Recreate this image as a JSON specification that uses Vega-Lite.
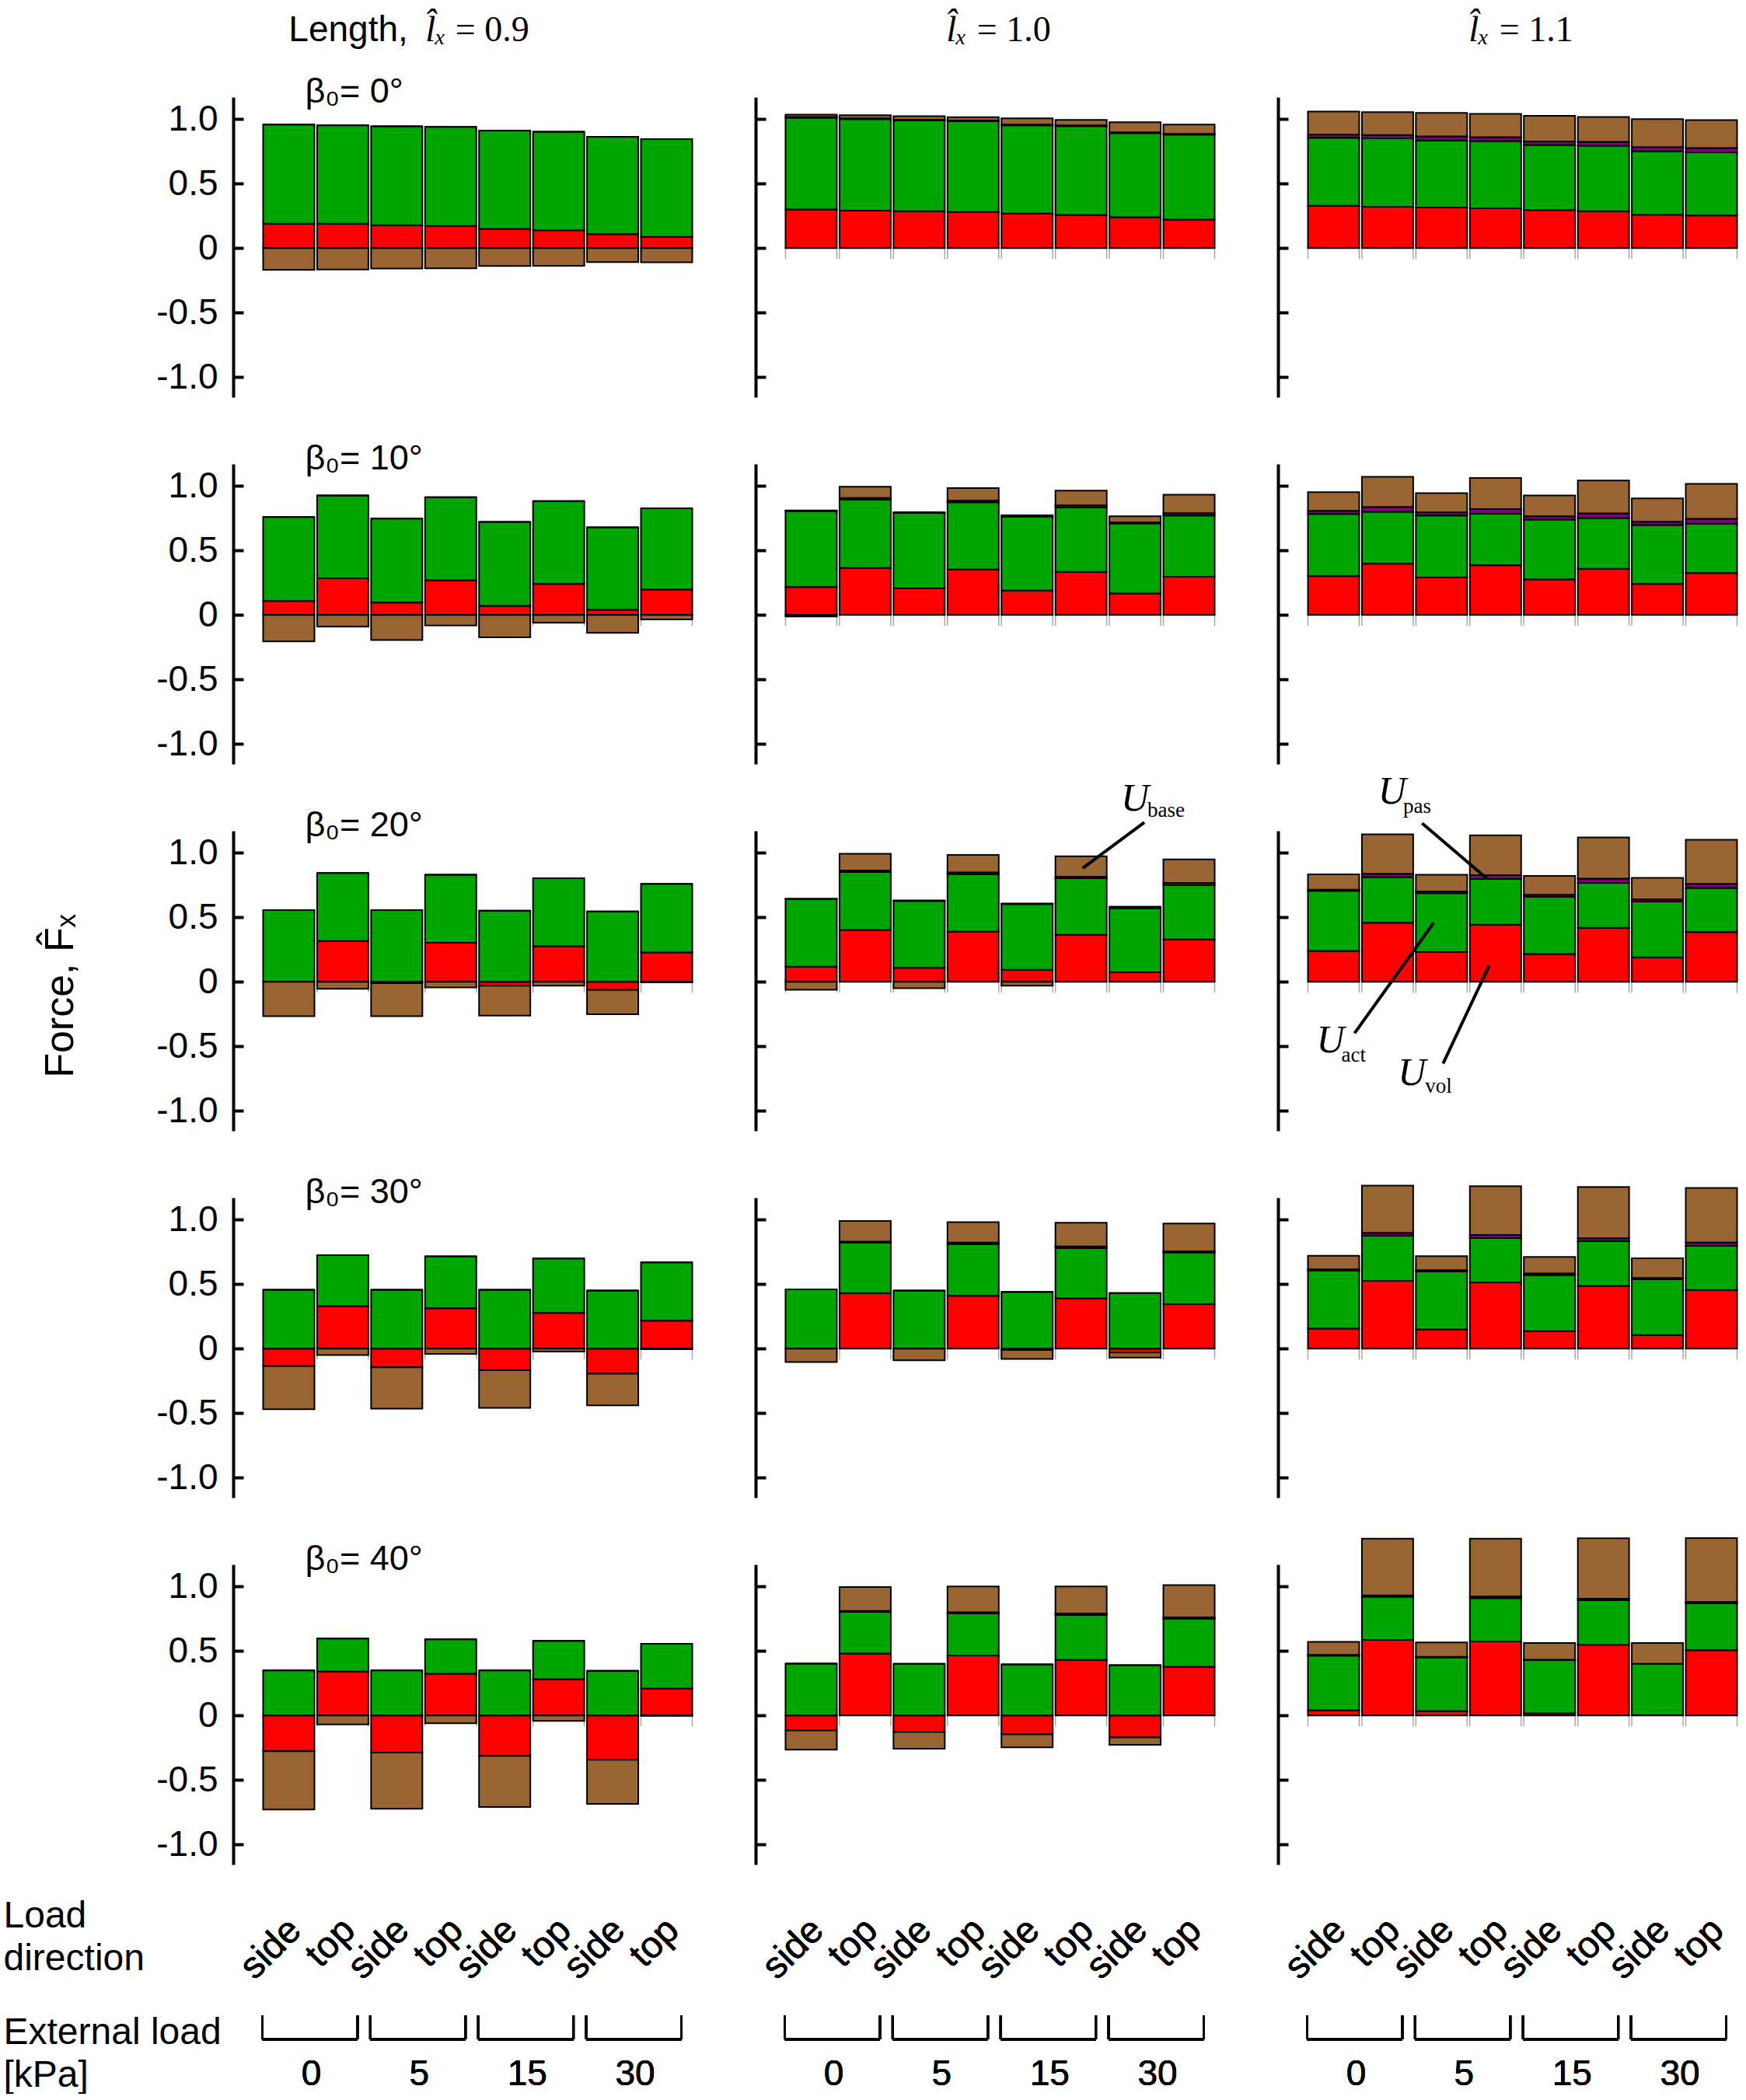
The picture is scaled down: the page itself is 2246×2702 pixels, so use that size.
{
  "$schema": "https://vega.github.io/schema/vega-lite/v6.json",
  "padding": {"left": 4, "top": 15, "right": 0, "bottom": 0},
  "datasets": {
    "bars": [
      {"c":"0.9","b":0,"l":"0","d":"side","vol":0.19,"act":0.768,"pas":0,"base":-0.168},
      {"c":"0.9","b":0,"l":"0","d":"top","vol":0.19,"act":0.762,"pas":0,"base":-0.166},
      {"c":"0.9","b":0,"l":"5","d":"side","vol":0.178,"act":0.766,"pas":0,"base":-0.158},
      {"c":"0.9","b":0,"l":"5","d":"top","vol":0.172,"act":0.768,"pas":0,"base":-0.156},
      {"c":"0.9","b":0,"l":"15","d":"side","vol":0.149,"act":0.762,"pas":0,"base":-0.139},
      {"c":"0.9","b":0,"l":"15","d":"top","vol":0.139,"act":0.763,"pas":0,"base":-0.137},
      {"c":"0.9","b":0,"l":"30","d":"side","vol":0.108,"act":0.755,"pas":0,"base":-0.108},
      {"c":"0.9","b":0,"l":"30","d":"top","vol":0.087,"act":0.757,"pas":0,"base":-0.11},
      {"c":"1.0","b":0,"l":"0","d":"side","vol":0.30,"act":0.71,"pas":0.006,"base":0.019},
      {"c":"1.0","b":0,"l":"0","d":"top","vol":0.29,"act":0.71,"pas":0.006,"base":0.024},
      {"c":"1.0","b":0,"l":"5","d":"side","vol":0.286,"act":0.704,"pas":0.006,"base":0.027},
      {"c":"1.0","b":0,"l":"5","d":"top","vol":0.28,"act":0.703,"pas":0.006,"base":0.026},
      {"c":"1.0","b":0,"l":"15","d":"side","vol":0.268,"act":0.684,"pas":0.006,"base":0.048},
      {"c":"1.0","b":0,"l":"15","d":"top","vol":0.257,"act":0.689,"pas":0.006,"base":0.042},
      {"c":"1.0","b":0,"l":"30","d":"side","vol":0.239,"act":0.653,"pas":0.006,"base":0.077},
      {"c":"1.0","b":0,"l":"30","d":"top","vol":0.222,"act":0.658,"pas":0.006,"base":0.072},
      {"c":"1.1","b":0,"l":"0","d":"side","vol":0.328,"act":0.527,"pas":0.025,"base":0.178},
      {"c":"1.1","b":0,"l":"0","d":"top","vol":0.32,"act":0.531,"pas":0.025,"base":0.178},
      {"c":"1.1","b":0,"l":"5","d":"side","vol":0.315,"act":0.519,"pas":0.032,"base":0.182},
      {"c":"1.1","b":0,"l":"5","d":"top","vol":0.309,"act":0.521,"pas":0.03,"base":0.181},
      {"c":"1.1","b":0,"l":"15","d":"side","vol":0.295,"act":0.504,"pas":0.028,"base":0.198},
      {"c":"1.1","b":0,"l":"15","d":"top","vol":0.286,"act":0.507,"pas":0.03,"base":0.194},
      {"c":"1.1","b":0,"l":"30","d":"side","vol":0.259,"act":0.492,"pas":0.032,"base":0.217},
      {"c":"1.1","b":0,"l":"30","d":"top","vol":0.253,"act":0.49,"pas":0.032,"base":0.217},
      {"c":"0.9","b":10,"l":"0","d":"side","vol":0.108,"act":0.651,"pas":0,"base":-0.205},
      {"c":"0.9","b":10,"l":"0","d":"top","vol":0.285,"act":0.641,"pas":0,"base":-0.09},
      {"c":"0.9","b":10,"l":"5","d":"side","vol":0.096,"act":0.651,"pas":0,"base":-0.195},
      {"c":"0.9","b":10,"l":"5","d":"top","vol":0.269,"act":0.643,"pas":0,"base":-0.082},
      {"c":"0.9","b":10,"l":"15","d":"side","vol":0.07,"act":0.651,"pas":0,"base":-0.173},
      {"c":"0.9","b":10,"l":"15","d":"top","vol":0.241,"act":0.641,"pas":0,"base":-0.06},
      {"c":"0.9","b":10,"l":"30","d":"side","vol":0.04,"act":0.639,"pas":0,"base":-0.139},
      {"c":"0.9","b":10,"l":"30","d":"top","vol":0.197,"act":0.63,"pas":0,"base":-0.034},
      {"c":"1.0","b":10,"l":"0","d":"side","vol":0.217,"act":0.588,"pas":0.005,"base":-0.012},
      {"c":"1.0","b":10,"l":"0","d":"top","vol":0.365,"act":0.529,"pas":0.012,"base":0.088},
      {"c":"1.0","b":10,"l":"5","d":"side","vol":0.207,"act":0.584,"pas":0.004,"base":0},
      {"c":"1.0","b":10,"l":"5","d":"top","vol":0.353,"act":0.52,"pas":0.014,"base":0.097},
      {"c":"1.0","b":10,"l":"15","d":"side","vol":0.19,"act":0.571,"pas":0.012,"base":0},
      {"c":"1.0","b":10,"l":"15","d":"top","vol":0.335,"act":0.498,"pas":0.017,"base":0.114},
      {"c":"1.0","b":10,"l":"30","d":"side","vol":0.167,"act":0.542,"pas":0.01,"base":0.046},
      {"c":"1.0","b":10,"l":"30","d":"top","vol":0.297,"act":0.474,"pas":0.018,"base":0.143},
      {"c":"1.1","b":10,"l":"0","d":"side","vol":0.301,"act":0.482,"pas":0.024,"base":0.145},
      {"c":"1.1","b":10,"l":"0","d":"top","vol":0.398,"act":0.401,"pas":0.038,"base":0.233},
      {"c":"1.1","b":10,"l":"5","d":"side","vol":0.291,"act":0.48,"pas":0.024,"base":0.149},
      {"c":"1.1","b":10,"l":"5","d":"top","vol":0.386,"act":0.399,"pas":0.035,"base":0.242},
      {"c":"1.1","b":10,"l":"15","d":"side","vol":0.275,"act":0.464,"pas":0.026,"base":0.161},
      {"c":"1.1","b":10,"l":"15","d":"top","vol":0.359,"act":0.392,"pas":0.037,"base":0.254},
      {"c":"1.1","b":10,"l":"30","d":"side","vol":0.241,"act":0.456,"pas":0.026,"base":0.181},
      {"c":"1.1","b":10,"l":"30","d":"top","vol":0.325,"act":0.382,"pas":0.038,"base":0.271},
      {"c":"0.9","b":20,"l":"0","d":"side","vol":0,"act":0.555,"pas":0,"base":-0.266},
      {"c":"0.9","b":20,"l":"0","d":"top","vol":0.316,"act":0.527,"pas":0,"base":-0.054},
      {"c":"0.9","b":20,"l":"5","d":"side","vol":-0.01,"act":0.555,"pas":0,"base":-0.256},
      {"c":"0.9","b":20,"l":"5","d":"top","vol":0.302,"act":0.527,"pas":0,"base":-0.044},
      {"c":"0.9","b":20,"l":"15","d":"side","vol":-0.03,"act":0.551,"pas":0,"base":-0.232},
      {"c":"0.9","b":20,"l":"15","d":"top","vol":0.276,"act":0.527,"pas":0,"base":-0.03},
      {"c":"0.9","b":20,"l":"30","d":"side","vol":-0.064,"act":0.545,"pas":0,"base":-0.188},
      {"c":"0.9","b":20,"l":"30","d":"top","vol":0.227,"act":0.532,"pas":0,"base":-0.005},
      {"c":"1.0","b":20,"l":"0","d":"side","vol":0.117,"act":0.523,"pas":0.005,"base":-0.062},
      {"c":"1.0","b":20,"l":"0","d":"top","vol":0.402,"act":0.449,"pas":0.012,"base":0.129},
      {"c":"1.0","b":20,"l":"5","d":"side","vol":0.109,"act":0.517,"pas":0.005,"base":-0.05},
      {"c":"1.0","b":20,"l":"5","d":"top","vol":0.388,"act":0.445,"pas":0.014,"base":0.137},
      {"c":"1.0","b":20,"l":"15","d":"side","vol":0.093,"act":0.509,"pas":0.005,"base":-0.03},
      {"c":"1.0","b":20,"l":"15","d":"top","vol":0.364,"act":0.439,"pas":0.012,"base":0.157},
      {"c":"1.0","b":20,"l":"30","d":"side","vol":0.074,"act":0.497,"pas":0.01,"base":0},
      {"c":"1.0","b":20,"l":"30","d":"top","vol":0.328,"act":0.422,"pas":0.016,"base":0.182},
      {"c":"1.1","b":20,"l":"0","d":"side","vol":0.239,"act":0.465,"pas":0.01,"base":0.119},
      {"c":"1.1","b":20,"l":"0","d":"top","vol":0.457,"act":0.354,"pas":0.026,"base":0.306},
      {"c":"1.1","b":20,"l":"5","d":"side","vol":0.231,"act":0.455,"pas":0.014,"base":0.129},
      {"c":"1.1","b":20,"l":"5","d":"top","vol":0.443,"act":0.354,"pas":0.03,"base":0.308},
      {"c":"1.1","b":20,"l":"15","d":"side","vol":0.215,"act":0.445,"pas":0.014,"base":0.147},
      {"c":"1.1","b":20,"l":"15","d":"top","vol":0.419,"act":0.348,"pas":0.032,"base":0.32},
      {"c":"1.1","b":20,"l":"30","d":"side","vol":0.189,"act":0.433,"pas":0.016,"base":0.167},
      {"c":"1.1","b":20,"l":"30","d":"top","vol":0.386,"act":0.342,"pas":0.031,"base":0.341},
      {"c":"0.9","b":30,"l":"0","d":"side","vol":-0.135,"act":0.456,"pas":0,"base":-0.335},
      {"c":"0.9","b":30,"l":"0","d":"top","vol":0.329,"act":0.396,"pas":0,"base":-0.05},
      {"c":"0.9","b":30,"l":"5","d":"side","vol":-0.145,"act":0.456,"pas":0,"base":-0.32},
      {"c":"0.9","b":30,"l":"5","d":"top","vol":0.313,"act":0.402,"pas":0,"base":-0.04},
      {"c":"0.9","b":30,"l":"15","d":"side","vol":-0.167,"act":0.456,"pas":0,"base":-0.293},
      {"c":"0.9","b":30,"l":"15","d":"top","vol":0.277,"act":0.422,"pas":0,"base":-0.022},
      {"c":"0.9","b":30,"l":"30","d":"side","vol":-0.195,"act":0.45,"pas":0,"base":-0.245},
      {"c":"0.9","b":30,"l":"30","d":"top","vol":0.217,"act":0.452,"pas":0,"base":-0.005},
      {"c":"1.0","b":30,"l":"0","d":"side","vol":0,"act":0.46,"pas":0,"base":-0.104},
      {"c":"1.0","b":30,"l":"0","d":"top","vol":0.43,"act":0.39,"pas":0.01,"base":0.16},
      {"c":"1.0","b":30,"l":"5","d":"side","vol":0,"act":0.45,"pas":0,"base":-0.09},
      {"c":"1.0","b":30,"l":"5","d":"top","vol":0.41,"act":0.40,"pas":0.012,"base":0.158},
      {"c":"1.0","b":30,"l":"15","d":"side","vol":-0.01,"act":0.44,"pas":0,"base":-0.07},
      {"c":"1.0","b":30,"l":"15","d":"top","vol":0.39,"act":0.39,"pas":0.012,"base":0.184},
      {"c":"1.0","b":30,"l":"30","d":"side","vol":-0.03,"act":0.43,"pas":0,"base":-0.04},
      {"c":"1.0","b":30,"l":"30","d":"top","vol":0.345,"act":0.40,"pas":0.01,"base":0.215},
      {"c":"1.1","b":30,"l":"0","d":"side","vol":0.155,"act":0.451,"pas":0.008,"base":0.106},
      {"c":"1.1","b":30,"l":"0","d":"top","vol":0.526,"act":0.351,"pas":0.02,"base":0.366},
      {"c":"1.1","b":30,"l":"5","d":"side","vol":0.149,"act":0.449,"pas":0.01,"base":0.109},
      {"c":"1.1","b":30,"l":"5","d":"top","vol":0.514,"act":0.343,"pas":0.024,"base":0.378},
      {"c":"1.1","b":30,"l":"15","d":"side","vol":0.135,"act":0.435,"pas":0.012,"base":0.129},
      {"c":"1.1","b":30,"l":"15","d":"top","vol":0.486,"act":0.347,"pas":0.023,"base":0.397},
      {"c":"1.1","b":30,"l":"30","d":"side","vol":0.106,"act":0.432,"pas":0.01,"base":0.152},
      {"c":"1.1","b":30,"l":"30","d":"top","vol":0.454,"act":0.343,"pas":0.025,"base":0.423},
      {"c":"0.9","b":40,"l":"0","d":"side","vol":-0.277,"act":0.349,"pas":0,"base":-0.452},
      {"c":"0.9","b":40,"l":"0","d":"top","vol":0.341,"act":0.255,"pas":0,"base":-0.07},
      {"c":"0.9","b":40,"l":"5","d":"side","vol":-0.287,"act":0.349,"pas":0,"base":-0.436},
      {"c":"0.9","b":40,"l":"5","d":"top","vol":0.323,"act":0.267,"pas":0,"base":-0.06},
      {"c":"0.9","b":40,"l":"15","d":"side","vol":-0.313,"act":0.349,"pas":0,"base":-0.396},
      {"c":"0.9","b":40,"l":"15","d":"top","vol":0.281,"act":0.297,"pas":0,"base":-0.042},
      {"c":"0.9","b":40,"l":"30","d":"side","vol":-0.343,"act":0.347,"pas":0,"base":-0.342},
      {"c":"0.9","b":40,"l":"30","d":"top","vol":0.209,"act":0.347,"pas":0,"base":-0.003},
      {"c":"1.0","b":40,"l":"0","d":"side","vol":-0.116,"act":0.402,"pas":0,"base":-0.149},
      {"c":"1.0","b":40,"l":"0","d":"top","vol":0.48,"act":0.323,"pas":0.007,"base":0.186},
      {"c":"1.0","b":40,"l":"5","d":"side","vol":-0.128,"act":0.40,"pas":0,"base":-0.129},
      {"c":"1.0","b":40,"l":"5","d":"top","vol":0.466,"act":0.324,"pas":0.01,"base":0.20},
      {"c":"1.0","b":40,"l":"15","d":"side","vol":-0.146,"act":0.396,"pas":0,"base":-0.101},
      {"c":"1.0","b":40,"l":"15","d":"top","vol":0.43,"act":0.35,"pas":0.01,"base":0.21},
      {"c":"1.0","b":40,"l":"30","d":"side","vol":-0.17,"act":0.39,"pas":0,"base":-0.057},
      {"c":"1.0","b":40,"l":"30","d":"top","vol":0.378,"act":0.372,"pas":0.01,"base":0.25},
      {"c":"1.1","b":40,"l":"0","d":"side","vol":0.04,"act":0.424,"pas":0.006,"base":0.10},
      {"c":"1.1","b":40,"l":"0","d":"top","vol":0.586,"act":0.334,"pas":0.01,"base":0.44},
      {"c":"1.1","b":40,"l":"5","d":"side","vol":0.034,"act":0.416,"pas":0.005,"base":0.111},
      {"c":"1.1","b":40,"l":"5","d":"top","vol":0.574,"act":0.336,"pas":0.013,"base":0.447},
      {"c":"1.1","b":40,"l":"15","d":"side","vol":0.016,"act":0.414,"pas":0.002,"base":0.13},
      {"c":"1.1","b":40,"l":"15","d":"top","vol":0.548,"act":0.345,"pas":0.012,"base":0.468},
      {"c":"1.1","b":40,"l":"30","d":"side","vol":0.003,"act":0.397,"pas":0,"base":0.162},
      {"c":"1.1","b":40,"l":"30","d":"top","vol":0.506,"act":0.363,"pas":0.011,"base":0.495}
    ],
    "notes": [
      {"id":"len","t":"Length,"},
      {"id":"lx","t":"l\u0302\u2093"},
      {"id":"v09","t":"= 0.9"},
      {"id":"v10","t":"= 1.0"},
      {"id":"v11","t":"= 1.1"},
      {"id":"b0","t":"\u03b2\u2080= 0\u00b0"},
      {"id":"b10","t":"\u03b2\u2080= 10\u00b0"},
      {"id":"b20","t":"\u03b2\u2080= 20\u00b0"},
      {"id":"b30","t":"\u03b2\u2080= 30\u00b0"},
      {"id":"b40","t":"\u03b2\u2080= 40\u00b0"},
      {"id":"U","t":"U"},
      {"id":"base","t":"base"},
      {"id":"pas","t":"pas"},
      {"id":"act","t":"act"},
      {"id":"vol","t":"vol"}
    ]
  },
  "data": {"name": "bars"},
  "transform": [
    {"fold": ["vol", "act", "pas", "base"], "as": ["comp", "v"]},
    {"calculate": "datum.l + ' ' + datum.d", "as": "pos"},
    {"calculate": "indexof(['vol','act','pas','base'], datum.comp)", "as": "ord"}
  ],
  "columns": 3,
  "spacing": {"row": 86, "column": 70},
  "bounds": "flush",
  "align": "each",
  "concat": [
    {
      "width": 602, "height": 386,
      "transform": [{"filter": "datum.c=='0.9' && datum.b==0"}],
      "encoding": {"x": {"field":"pos","type":"nominal","axis":null,"scale":{"domain":["0 side","0 top","5 side","5 top","15 side","15 top","30 side","30 top"],"paddingInner":0.05,"paddingOuter":0.36,"align":0.77}}},
      "layer": [
        {"transform":[{"filter":"datum.comp=='vol'"}],"mark":{"type":"rule","color":"#a8a8a8","strokeWidth":1.5},"encoding":{"x":{"field":"pos","type":"nominal","bandPosition":0},"y":{"datum":0},"y2":{"datum":-0.085}}},
        {"transform":[{"filter":"datum.comp=='vol'"}],"mark":{"type":"rule","color":"#a8a8a8","strokeWidth":1.5},"encoding":{"x":{"field":"pos","type":"nominal","bandPosition":1},"y":{"datum":0},"y2":{"datum":-0.085}}},
        {"mark":"bar","encoding":{"y":{"field":"v","type":"quantitative","stack":"zero","scale":{"domain":[-1.155,1.17],"nice":false},"axis":{"values":[-1,-0.5,0,0.5,1],"labelExpr":"datum.value==0 ? '0' : (datum.value<0 ? '-' : '') + format(abs(datum.value), '.1f')","title":null}},"color":{"field":"comp","type":"nominal","legend":null,"scale":{"domain":["vol","act","pas","base"],"range":["#ff0000","#00a600","#800080","#996633"]}},"order":{"field":"ord"}}},
        {"mark":{"type":"rule","color":"black","strokeWidth":3},"encoding":{"y":{"datum":0}}},
        {"data":{"name":"notes"},"transform":[{"filter":"datum.id=='len'"}],"mark":{"type":"text","align":"right","fontSize":46,"dx":-55},"encoding":{"x":{"datum":"5 top"},"y":{"datum":1.602},"text":{"field":"t"}}},
        {"data":{"name":"notes"},"transform":[{"filter":"datum.id=='lx'"}],"mark":{"type":"text","align":"right","font":"Liberation Serif","fontStyle":"italic","fontSize":47,"dx":-6},"encoding":{"x":{"datum":"5 top"},"y":{"datum":1.602},"text":{"field":"t"}}},
        {"data":{"name":"notes"},"transform":[{"filter":"datum.id=='v09'"}],"mark":{"type":"text","align":"left","font":"Liberation Serif","fontSize":46,"dx":6},"encoding":{"x":{"datum":"5 top"},"y":{"datum":1.602},"text":{"field":"t"}}},
        {"data":{"name":"notes"},"transform":[{"filter":"datum.id=='b0'"}],"mark":{"type":"text","align":"left","fontSize":45,"dx":21},"encoding":{"x":{"datum":"0 side"},"y":{"datum":1.127},"text":{"field":"t"}}}
      ]
    },
    {
      "width": 602, "height": 386,
      "transform": [{"filter": "datum.c=='1.0' && datum.b==0"}],
      "encoding": {"x": {"field":"pos","type":"nominal","axis":null,"scale":{"domain":["0 side","0 top","5 side","5 top","15 side","15 top","30 side","30 top"],"paddingInner":0.05,"paddingOuter":0.36,"align":0.77}}},
      "layer": [
        {"transform":[{"filter":"datum.comp=='vol'"}],"mark":{"type":"rule","color":"#a8a8a8","strokeWidth":1.5},"encoding":{"x":{"field":"pos","type":"nominal","bandPosition":0},"y":{"datum":0},"y2":{"datum":-0.085}}},
        {"transform":[{"filter":"datum.comp=='vol'"}],"mark":{"type":"rule","color":"#a8a8a8","strokeWidth":1.5},"encoding":{"x":{"field":"pos","type":"nominal","bandPosition":1},"y":{"datum":0},"y2":{"datum":-0.085}}},
        {"mark":"bar","encoding":{"y":{"field":"v","type":"quantitative","stack":"zero","scale":{"domain":[-1.155,1.17],"nice":false},"axis":{"values":[-1,-0.5,0,0.5,1],"labels":false,"title":null}},"color":{"field":"comp","type":"nominal","legend":null,"scale":{"domain":["vol","act","pas","base"],"range":["#ff0000","#00a600","#800080","#996633"]}},"order":{"field":"ord"}}},
        {"mark":{"type":"rule","color":"black","strokeWidth":3},"encoding":{"y":{"datum":0}}},
        {"data":{"name":"notes"},"transform":[{"filter":"datum.id=='lx'"}],"mark":{"type":"text","align":"right","font":"Liberation Serif","fontStyle":"italic","fontSize":47,"dx":-8},"encoding":{"x":{"datum":"5 top"},"y":{"datum":1.602},"text":{"field":"t"}}},
        {"data":{"name":"notes"},"transform":[{"filter":"datum.id=='v10'"}],"mark":{"type":"text","align":"left","font":"Liberation Serif","fontSize":46,"dx":5},"encoding":{"x":{"datum":"5 top"},"y":{"datum":1.602},"text":{"field":"t"}}}
      ]
    },
    {
      "width": 602, "height": 386,
      "transform": [{"filter": "datum.c=='1.1' && datum.b==0"}],
      "encoding": {"x": {"field":"pos","type":"nominal","axis":null,"scale":{"domain":["0 side","0 top","5 side","5 top","15 side","15 top","30 side","30 top"],"paddingInner":0.05,"paddingOuter":0.36,"align":0.77}}},
      "layer": [
        {"transform":[{"filter":"datum.comp=='vol'"}],"mark":{"type":"rule","color":"#a8a8a8","strokeWidth":1.5},"encoding":{"x":{"field":"pos","type":"nominal","bandPosition":0},"y":{"datum":0},"y2":{"datum":-0.085}}},
        {"transform":[{"filter":"datum.comp=='vol'"}],"mark":{"type":"rule","color":"#a8a8a8","strokeWidth":1.5},"encoding":{"x":{"field":"pos","type":"nominal","bandPosition":1},"y":{"datum":0},"y2":{"datum":-0.085}}},
        {"mark":"bar","encoding":{"y":{"field":"v","type":"quantitative","stack":"zero","scale":{"domain":[-1.155,1.17],"nice":false},"axis":{"values":[-1,-0.5,0,0.5,1],"labels":false,"title":null}},"color":{"field":"comp","type":"nominal","legend":null,"scale":{"domain":["vol","act","pas","base"],"range":["#ff0000","#00a600","#800080","#996633"]}},"order":{"field":"ord"}}},
        {"mark":{"type":"rule","color":"black","strokeWidth":3},"encoding":{"y":{"datum":0}}},
        {"data":{"name":"notes"},"transform":[{"filter":"datum.id=='lx'"}],"mark":{"type":"text","align":"right","font":"Liberation Serif","fontStyle":"italic","fontSize":47,"dx":-8},"encoding":{"x":{"datum":"5 top"},"y":{"datum":1.602},"text":{"field":"t"}}},
        {"data":{"name":"notes"},"transform":[{"filter":"datum.id=='v11'"}],"mark":{"type":"text","align":"left","font":"Liberation Serif","fontSize":46,"dx":5},"encoding":{"x":{"datum":"5 top"},"y":{"datum":1.602},"text":{"field":"t"}}}
      ]
    },
    {
      "width": 602, "height": 386,
      "transform": [{"filter": "datum.c=='0.9' && datum.b==10"}],
      "encoding": {"x": {"field":"pos","type":"nominal","axis":null,"scale":{"domain":["0 side","0 top","5 side","5 top","15 side","15 top","30 side","30 top"],"paddingInner":0.05,"paddingOuter":0.36,"align":0.77}}},
      "layer": [
        {"transform":[{"filter":"datum.comp=='vol'"}],"mark":{"type":"rule","color":"#a8a8a8","strokeWidth":1.5},"encoding":{"x":{"field":"pos","type":"nominal","bandPosition":0},"y":{"datum":0},"y2":{"datum":-0.085}}},
        {"transform":[{"filter":"datum.comp=='vol'"}],"mark":{"type":"rule","color":"#a8a8a8","strokeWidth":1.5},"encoding":{"x":{"field":"pos","type":"nominal","bandPosition":1},"y":{"datum":0},"y2":{"datum":-0.085}}},
        {"mark":"bar","encoding":{"y":{"field":"v","type":"quantitative","stack":"zero","scale":{"domain":[-1.155,1.17],"nice":false},"axis":{"values":[-1,-0.5,0,0.5,1],"labelExpr":"datum.value==0 ? '0' : (datum.value<0 ? '-' : '') + format(abs(datum.value), '.1f')","title":null}},"color":{"field":"comp","type":"nominal","legend":null,"scale":{"domain":["vol","act","pas","base"],"range":["#ff0000","#00a600","#800080","#996633"]}},"order":{"field":"ord"}}},
        {"mark":{"type":"rule","color":"black","strokeWidth":3},"encoding":{"y":{"datum":0}}},
        {"data":{"name":"notes"},"transform":[{"filter":"datum.id=='b10'"}],"mark":{"type":"text","align":"left","fontSize":45,"dx":21},"encoding":{"x":{"datum":"0 side"},"y":{"datum":1.127},"text":{"field":"t"}}}
      ]
    },
    {
      "width": 602, "height": 386,
      "transform": [{"filter": "datum.c=='1.0' && datum.b==10"}],
      "encoding": {"x": {"field":"pos","type":"nominal","axis":null,"scale":{"domain":["0 side","0 top","5 side","5 top","15 side","15 top","30 side","30 top"],"paddingInner":0.05,"paddingOuter":0.36,"align":0.77}}},
      "layer": [
        {"transform":[{"filter":"datum.comp=='vol'"}],"mark":{"type":"rule","color":"#a8a8a8","strokeWidth":1.5},"encoding":{"x":{"field":"pos","type":"nominal","bandPosition":0},"y":{"datum":0},"y2":{"datum":-0.085}}},
        {"transform":[{"filter":"datum.comp=='vol'"}],"mark":{"type":"rule","color":"#a8a8a8","strokeWidth":1.5},"encoding":{"x":{"field":"pos","type":"nominal","bandPosition":1},"y":{"datum":0},"y2":{"datum":-0.085}}},
        {"mark":"bar","encoding":{"y":{"field":"v","type":"quantitative","stack":"zero","scale":{"domain":[-1.155,1.17],"nice":false},"axis":{"values":[-1,-0.5,0,0.5,1],"labels":false,"title":null}},"color":{"field":"comp","type":"nominal","legend":null,"scale":{"domain":["vol","act","pas","base"],"range":["#ff0000","#00a600","#800080","#996633"]}},"order":{"field":"ord"}}},
        {"mark":{"type":"rule","color":"black","strokeWidth":3},"encoding":{"y":{"datum":0}}}
      ]
    },
    {
      "width": 602, "height": 386,
      "transform": [{"filter": "datum.c=='1.1' && datum.b==10"}],
      "encoding": {"x": {"field":"pos","type":"nominal","axis":null,"scale":{"domain":["0 side","0 top","5 side","5 top","15 side","15 top","30 side","30 top"],"paddingInner":0.05,"paddingOuter":0.36,"align":0.77}}},
      "layer": [
        {"transform":[{"filter":"datum.comp=='vol'"}],"mark":{"type":"rule","color":"#a8a8a8","strokeWidth":1.5},"encoding":{"x":{"field":"pos","type":"nominal","bandPosition":0},"y":{"datum":0},"y2":{"datum":-0.085}}},
        {"transform":[{"filter":"datum.comp=='vol'"}],"mark":{"type":"rule","color":"#a8a8a8","strokeWidth":1.5},"encoding":{"x":{"field":"pos","type":"nominal","bandPosition":1},"y":{"datum":0},"y2":{"datum":-0.085}}},
        {"mark":"bar","encoding":{"y":{"field":"v","type":"quantitative","stack":"zero","scale":{"domain":[-1.155,1.17],"nice":false},"axis":{"values":[-1,-0.5,0,0.5,1],"labels":false,"title":null}},"color":{"field":"comp","type":"nominal","legend":null,"scale":{"domain":["vol","act","pas","base"],"range":["#ff0000","#00a600","#800080","#996633"]}},"order":{"field":"ord"}}},
        {"mark":{"type":"rule","color":"black","strokeWidth":3},"encoding":{"y":{"datum":0}}}
      ]
    },
    {
      "width": 602, "height": 386,
      "transform": [{"filter": "datum.c=='0.9' && datum.b==20"}],
      "encoding": {"x": {"field":"pos","type":"nominal","axis":null,"scale":{"domain":["0 side","0 top","5 side","5 top","15 side","15 top","30 side","30 top"],"paddingInner":0.05,"paddingOuter":0.36,"align":0.77}}},
      "layer": [
        {"transform":[{"filter":"datum.comp=='vol'"}],"mark":{"type":"rule","color":"#a8a8a8","strokeWidth":1.5},"encoding":{"x":{"field":"pos","type":"nominal","bandPosition":0},"y":{"datum":0},"y2":{"datum":-0.085}}},
        {"transform":[{"filter":"datum.comp=='vol'"}],"mark":{"type":"rule","color":"#a8a8a8","strokeWidth":1.5},"encoding":{"x":{"field":"pos","type":"nominal","bandPosition":1},"y":{"datum":0},"y2":{"datum":-0.085}}},
        {"mark":"bar","encoding":{"y":{"field":"v","type":"quantitative","stack":"zero","scale":{"domain":[-1.155,1.17],"nice":false},"axis":{"values":[-1,-0.5,0,0.5,1],"labelExpr":"datum.value==0 ? '0' : (datum.value<0 ? '-' : '') + format(abs(datum.value), '.1f')","title":"Force, F\u0302\u2093","titleFontSize":52,"titleX":-223,"titleY":212,"titleAngle":-90,"titleAlign":"center","titleBaseline":"middle"}},"color":{"field":"comp","type":"nominal","legend":null,"scale":{"domain":["vol","act","pas","base"],"range":["#ff0000","#00a600","#800080","#996633"]}},"order":{"field":"ord"}}},
        {"mark":{"type":"rule","color":"black","strokeWidth":3},"encoding":{"y":{"datum":0}}},
        {"data":{"name":"notes"},"transform":[{"filter":"datum.id=='b20'"}],"mark":{"type":"text","align":"left","fontSize":45,"dx":21},"encoding":{"x":{"datum":"0 side"},"y":{"datum":1.127},"text":{"field":"t"}}}
      ]
    },
    {
      "width": 602, "height": 386,
      "transform": [{"filter": "datum.c=='1.0' && datum.b==20"}],
      "encoding": {"x": {"field":"pos","type":"nominal","axis":null,"scale":{"domain":["0 side","0 top","5 side","5 top","15 side","15 top","30 side","30 top"],"paddingInner":0.05,"paddingOuter":0.36,"align":0.77}}},
      "layer": [
        {"transform":[{"filter":"datum.comp=='vol'"}],"mark":{"type":"rule","color":"#a8a8a8","strokeWidth":1.5},"encoding":{"x":{"field":"pos","type":"nominal","bandPosition":0},"y":{"datum":0},"y2":{"datum":-0.085}}},
        {"transform":[{"filter":"datum.comp=='vol'"}],"mark":{"type":"rule","color":"#a8a8a8","strokeWidth":1.5},"encoding":{"x":{"field":"pos","type":"nominal","bandPosition":1},"y":{"datum":0},"y2":{"datum":-0.085}}},
        {"mark":"bar","encoding":{"y":{"field":"v","type":"quantitative","stack":"zero","scale":{"domain":[-1.155,1.17],"nice":false},"axis":{"values":[-1,-0.5,0,0.5,1],"labels":false,"title":null}},"color":{"field":"comp","type":"nominal","legend":null,"scale":{"domain":["vol","act","pas","base"],"range":["#ff0000","#00a600","#800080","#996633"]}},"order":{"field":"ord"}}},
        {"mark":{"type":"rule","color":"black","strokeWidth":3},"encoding":{"y":{"datum":0}}},
        {"data":{"name":"notes"},"transform":[{"filter":"datum.id=='U'"}],"mark":{"type":"text","align":"center","font":"Liberation Serif","fontStyle":"italic","fontSize":50},"encoding":{"x":{"datum":"30 side"},"y":{"datum":1.325},"text":{"field":"t"}}},
        {"data":{"name":"notes"},"transform":[{"filter":"datum.id=='base'"}],"mark":{"type":"text","align":"left","font":"Liberation Serif","fontSize":27,"dx":16},"encoding":{"x":{"datum":"30 side"},"y":{"datum":1.277},"text":{"field":"t"}}},
        {"data":{"name":"notes"},"transform":[{"filter":"datum.id=='base'"}],"mark":{"type":"rule","color":"black","strokeWidth":4,"xOffset":2,"x2Offset":12},"encoding":{"x":{"datum":"15 top"},"x2":{"datum":"30 side"},"y":{"datum":0.88},"y2":{"datum":1.235}}}
      ]
    },
    {
      "width": 602, "height": 386,
      "transform": [{"filter": "datum.c=='1.1' && datum.b==20"}],
      "encoding": {"x": {"field":"pos","type":"nominal","axis":null,"scale":{"domain":["0 side","0 top","5 side","5 top","15 side","15 top","30 side","30 top"],"paddingInner":0.05,"paddingOuter":0.36,"align":0.77}}},
      "layer": [
        {"transform":[{"filter":"datum.comp=='vol'"}],"mark":{"type":"rule","color":"#a8a8a8","strokeWidth":1.5},"encoding":{"x":{"field":"pos","type":"nominal","bandPosition":0},"y":{"datum":0},"y2":{"datum":-0.085}}},
        {"transform":[{"filter":"datum.comp=='vol'"}],"mark":{"type":"rule","color":"#a8a8a8","strokeWidth":1.5},"encoding":{"x":{"field":"pos","type":"nominal","bandPosition":1},"y":{"datum":0},"y2":{"datum":-0.085}}},
        {"mark":"bar","encoding":{"y":{"field":"v","type":"quantitative","stack":"zero","scale":{"domain":[-1.155,1.17],"nice":false},"axis":{"values":[-1,-0.5,0,0.5,1],"labels":false,"title":null}},"color":{"field":"comp","type":"nominal","legend":null,"scale":{"domain":["vol","act","pas","base"],"range":["#ff0000","#00a600","#800080","#996633"]}},"order":{"field":"ord"}}},
        {"mark":{"type":"rule","color":"black","strokeWidth":3},"encoding":{"y":{"datum":0}}},
        {"data":{"name":"notes"},"transform":[{"filter":"datum.id=='U'"}],"mark":{"type":"text","align":"center","font":"Liberation Serif","fontStyle":"italic","fontSize":50,"dx":6},"encoding":{"x":{"datum":"0 top"},"y":{"datum":1.38},"text":{"field":"t"}}},
        {"data":{"name":"notes"},"transform":[{"filter":"datum.id=='pas'"}],"mark":{"type":"text","align":"left","font":"Liberation Serif","fontSize":27,"dx":20},"encoding":{"x":{"datum":"0 top"},"y":{"datum":1.307},"text":{"field":"t"}}},
        {"data":{"name":"notes"},"transform":[{"filter":"datum.id=='pas'"}],"mark":{"type":"rule","color":"black","strokeWidth":4,"xOffset":-25,"x2Offset":-11},"encoding":{"x":{"datum":"5 side"},"x2":{"datum":"5 top"},"y":{"datum":1.229},"y2":{"datum":0.80}}},
        {"data":{"name":"notes"},"transform":[{"filter":"datum.id=='U'"}],"mark":{"type":"text","align":"center","font":"Liberation Serif","fontStyle":"italic","fontSize":50,"dx":-4},"encoding":{"x":{"datum":"0 side"},"y":{"datum":-0.548},"text":{"field":"t"}}},
        {"data":{"name":"notes"},"transform":[{"filter":"datum.id=='act'"}],"mark":{"type":"text","align":"left","font":"Liberation Serif","fontSize":27,"dx":10},"encoding":{"x":{"datum":"0 side"},"y":{"datum":-0.62},"text":{"field":"t"}}},
        {"data":{"name":"notes"},"transform":[{"filter":"datum.id=='act'"}],"mark":{"type":"rule","color":"black","strokeWidth":4,"xOffset":27,"x2Offset":-10},"encoding":{"x":{"datum":"0 side"},"x2":{"datum":"5 side"},"y":{"datum":-0.398},"y2":{"datum":0.458}}},
        {"data":{"name":"notes"},"transform":[{"filter":"datum.id=='U'"}],"mark":{"type":"text","align":"center","font":"Liberation Serif","fontStyle":"italic","fontSize":50,"dx":-38},"encoding":{"x":{"datum":"5 side"},"y":{"datum":-0.80},"text":{"field":"t"}}},
        {"data":{"name":"notes"},"transform":[{"filter":"datum.id=='vol'"}],"mark":{"type":"text","align":"left","font":"Liberation Serif","fontSize":27,"dx":-21},"encoding":{"x":{"datum":"5 side"},"y":{"datum":-0.86},"text":{"field":"t"}}},
        {"data":{"name":"notes"},"transform":[{"filter":"datum.id=='vol'"}],"mark":{"type":"rule","color":"black","strokeWidth":4,"xOffset":2,"x2Offset":-8},"encoding":{"x":{"datum":"5 side"},"x2":{"datum":"5 top"},"y":{"datum":-0.633},"y2":{"datum":0.127}}}
      ]
    },
    {
      "width": 602, "height": 386,
      "transform": [{"filter": "datum.c=='0.9' && datum.b==30"}],
      "encoding": {"x": {"field":"pos","type":"nominal","axis":null,"scale":{"domain":["0 side","0 top","5 side","5 top","15 side","15 top","30 side","30 top"],"paddingInner":0.05,"paddingOuter":0.36,"align":0.77}}},
      "layer": [
        {"transform":[{"filter":"datum.comp=='vol'"}],"mark":{"type":"rule","color":"#a8a8a8","strokeWidth":1.5},"encoding":{"x":{"field":"pos","type":"nominal","bandPosition":0},"y":{"datum":0},"y2":{"datum":-0.085}}},
        {"transform":[{"filter":"datum.comp=='vol'"}],"mark":{"type":"rule","color":"#a8a8a8","strokeWidth":1.5},"encoding":{"x":{"field":"pos","type":"nominal","bandPosition":1},"y":{"datum":0},"y2":{"datum":-0.085}}},
        {"mark":"bar","encoding":{"y":{"field":"v","type":"quantitative","stack":"zero","scale":{"domain":[-1.155,1.17],"nice":false},"axis":{"values":[-1,-0.5,0,0.5,1],"labelExpr":"datum.value==0 ? '0' : (datum.value<0 ? '-' : '') + format(abs(datum.value), '.1f')","title":null}},"color":{"field":"comp","type":"nominal","legend":null,"scale":{"domain":["vol","act","pas","base"],"range":["#ff0000","#00a600","#800080","#996633"]}},"order":{"field":"ord"}}},
        {"mark":{"type":"rule","color":"black","strokeWidth":3},"encoding":{"y":{"datum":0}}},
        {"data":{"name":"notes"},"transform":[{"filter":"datum.id=='b30'"}],"mark":{"type":"text","align":"left","fontSize":45,"dx":21},"encoding":{"x":{"datum":"0 side"},"y":{"datum":1.127},"text":{"field":"t"}}}
      ]
    },
    {
      "width": 602, "height": 386,
      "transform": [{"filter": "datum.c=='1.0' && datum.b==30"}],
      "encoding": {"x": {"field":"pos","type":"nominal","axis":null,"scale":{"domain":["0 side","0 top","5 side","5 top","15 side","15 top","30 side","30 top"],"paddingInner":0.05,"paddingOuter":0.36,"align":0.77}}},
      "layer": [
        {"transform":[{"filter":"datum.comp=='vol'"}],"mark":{"type":"rule","color":"#a8a8a8","strokeWidth":1.5},"encoding":{"x":{"field":"pos","type":"nominal","bandPosition":0},"y":{"datum":0},"y2":{"datum":-0.085}}},
        {"transform":[{"filter":"datum.comp=='vol'"}],"mark":{"type":"rule","color":"#a8a8a8","strokeWidth":1.5},"encoding":{"x":{"field":"pos","type":"nominal","bandPosition":1},"y":{"datum":0},"y2":{"datum":-0.085}}},
        {"mark":"bar","encoding":{"y":{"field":"v","type":"quantitative","stack":"zero","scale":{"domain":[-1.155,1.17],"nice":false},"axis":{"values":[-1,-0.5,0,0.5,1],"labels":false,"title":null}},"color":{"field":"comp","type":"nominal","legend":null,"scale":{"domain":["vol","act","pas","base"],"range":["#ff0000","#00a600","#800080","#996633"]}},"order":{"field":"ord"}}},
        {"mark":{"type":"rule","color":"black","strokeWidth":3},"encoding":{"y":{"datum":0}}}
      ]
    },
    {
      "width": 602, "height": 386,
      "transform": [{"filter": "datum.c=='1.1' && datum.b==30"}],
      "encoding": {"x": {"field":"pos","type":"nominal","axis":null,"scale":{"domain":["0 side","0 top","5 side","5 top","15 side","15 top","30 side","30 top"],"paddingInner":0.05,"paddingOuter":0.36,"align":0.77}}},
      "layer": [
        {"transform":[{"filter":"datum.comp=='vol'"}],"mark":{"type":"rule","color":"#a8a8a8","strokeWidth":1.5},"encoding":{"x":{"field":"pos","type":"nominal","bandPosition":0},"y":{"datum":0},"y2":{"datum":-0.085}}},
        {"transform":[{"filter":"datum.comp=='vol'"}],"mark":{"type":"rule","color":"#a8a8a8","strokeWidth":1.5},"encoding":{"x":{"field":"pos","type":"nominal","bandPosition":1},"y":{"datum":0},"y2":{"datum":-0.085}}},
        {"mark":"bar","encoding":{"y":{"field":"v","type":"quantitative","stack":"zero","scale":{"domain":[-1.155,1.17],"nice":false},"axis":{"values":[-1,-0.5,0,0.5,1],"labels":false,"title":null}},"color":{"field":"comp","type":"nominal","legend":null,"scale":{"domain":["vol","act","pas","base"],"range":["#ff0000","#00a600","#800080","#996633"]}},"order":{"field":"ord"}}},
        {"mark":{"type":"rule","color":"black","strokeWidth":3},"encoding":{"y":{"datum":0}}}
      ]
    },
    {
      "width": 602, "height": 386,
      "transform": [{"filter": "datum.c=='0.9' && datum.b==40"}],
      "encoding": {"x": {"field":"pos","type":"nominal","axis":null,"scale":{"domain":["0 side","0 top","5 side","5 top","15 side","15 top","30 side","30 top"],"paddingInner":0.05,"paddingOuter":0.36,"align":0.77}}},
      "layer": [
        {"transform":[{"filter":"datum.comp=='vol'"}],"mark":{"type":"rule","color":"#a8a8a8","strokeWidth":1.5},"encoding":{"x":{"field":"pos","type":"nominal","bandPosition":0},"y":{"datum":0},"y2":{"datum":-0.085}}},
        {"transform":[{"filter":"datum.comp=='vol'"}],"mark":{"type":"rule","color":"#a8a8a8","strokeWidth":1.5},"encoding":{"x":{"field":"pos","type":"nominal","bandPosition":1},"y":{"datum":0},"y2":{"datum":-0.085}}},
        {"mark":"bar","encoding":{"y":{"field":"v","type":"quantitative","stack":"zero","scale":{"domain":[-1.155,1.17],"nice":false},"axis":{"values":[-1,-0.5,0,0.5,1],"labelExpr":"datum.value==0 ? '0' : (datum.value<0 ? '-' : '') + format(abs(datum.value), '.1f')","title":null}},"color":{"field":"comp","type":"nominal","legend":null,"scale":{"domain":["vol","act","pas","base"],"range":["#ff0000","#00a600","#800080","#996633"]}},"order":{"field":"ord"}}},
        {"mark":{"type":"rule","color":"black","strokeWidth":3},"encoding":{"y":{"datum":0}}},
        {"data":{"name":"notes"},"transform":[{"filter":"datum.id=='b40'"}],"mark":{"type":"text","align":"left","fontSize":45,"dx":21},"encoding":{"x":{"datum":"0 side"},"y":{"datum":1.127},"text":{"field":"t"}}}
      ]
    },
    {
      "width": 602, "height": 386,
      "transform": [{"filter": "datum.c=='1.0' && datum.b==40"}],
      "encoding": {"x": {"field":"pos","type":"nominal","axis":null,"scale":{"domain":["0 side","0 top","5 side","5 top","15 side","15 top","30 side","30 top"],"paddingInner":0.05,"paddingOuter":0.36,"align":0.77}}},
      "layer": [
        {"transform":[{"filter":"datum.comp=='vol'"}],"mark":{"type":"rule","color":"#a8a8a8","strokeWidth":1.5},"encoding":{"x":{"field":"pos","type":"nominal","bandPosition":0},"y":{"datum":0},"y2":{"datum":-0.085}}},
        {"transform":[{"filter":"datum.comp=='vol'"}],"mark":{"type":"rule","color":"#a8a8a8","strokeWidth":1.5},"encoding":{"x":{"field":"pos","type":"nominal","bandPosition":1},"y":{"datum":0},"y2":{"datum":-0.085}}},
        {"mark":"bar","encoding":{"y":{"field":"v","type":"quantitative","stack":"zero","scale":{"domain":[-1.155,1.17],"nice":false},"axis":{"values":[-1,-0.5,0,0.5,1],"labels":false,"title":null}},"color":{"field":"comp","type":"nominal","legend":null,"scale":{"domain":["vol","act","pas","base"],"range":["#ff0000","#00a600","#800080","#996633"]}},"order":{"field":"ord"}}},
        {"mark":{"type":"rule","color":"black","strokeWidth":3},"encoding":{"y":{"datum":0}}}
      ]
    },
    {
      "width": 602, "height": 386,
      "transform": [{"filter": "datum.c=='1.1' && datum.b==40"}],
      "encoding": {"x": {"field":"pos","type":"nominal","axis":null,"scale":{"domain":["0 side","0 top","5 side","5 top","15 side","15 top","30 side","30 top"],"paddingInner":0.05,"paddingOuter":0.36,"align":0.77}}},
      "layer": [
        {"transform":[{"filter":"datum.comp=='vol'"}],"mark":{"type":"rule","color":"#a8a8a8","strokeWidth":1.5},"encoding":{"x":{"field":"pos","type":"nominal","bandPosition":0},"y":{"datum":0},"y2":{"datum":-0.085}}},
        {"transform":[{"filter":"datum.comp=='vol'"}],"mark":{"type":"rule","color":"#a8a8a8","strokeWidth":1.5},"encoding":{"x":{"field":"pos","type":"nominal","bandPosition":1},"y":{"datum":0},"y2":{"datum":-0.085}}},
        {"mark":"bar","encoding":{"y":{"field":"v","type":"quantitative","stack":"zero","scale":{"domain":[-1.155,1.17],"nice":false},"axis":{"values":[-1,-0.5,0,0.5,1],"labels":false,"title":null}},"color":{"field":"comp","type":"nominal","legend":null,"scale":{"domain":["vol","act","pas","base"],"range":["#ff0000","#00a600","#800080","#996633"]}},"order":{"field":"ord"}}},
        {"mark":{"type":"rule","color":"black","strokeWidth":3},"encoding":{"y":{"datum":0}}}
      ]
    },
    {
      "width": 602, "height": 200,
      "transform": [{"filter": "datum.c=='0.9' && datum.comp=='vol'"}],
      "encoding": {"x": {"field":"pos","type":"nominal","axis":null,"scale":{"domain":["0 side","0 top","5 side","5 top","15 side","15 top","30 side","30 top"],"paddingInner":0.05,"paddingOuter":0.36,"align":0.77}}},
      "layer": [
        {"mark":{"type":"text","angle":-45,"align":"right","baseline":"middle","fontSize":48,"dx":12},"encoding":{"y":{"datum":1.0,"scale":{"domain":[0,1],"nice":false},"axis":{"values":[1.0,0.25],"labelExpr":"datum.value > 0.5 ? ['Load','direction'] : ['External load','[kPa]']","labelAlign":"left","labelBaseline":"alphabetic","labelPadding":296,"labelOffset":-6,"labelFontSize":48,"labelLineHeight":55,"labelLimit":0,"labelFlush":false,"labelOverlap":false,"ticks":false,"tickSize":0,"domain":false,"title":null}},"text":{"field":"d"}}},
        {"transform":[{"filter":"datum.d=='side'"},{"calculate":"datum.l + ' top'","as":"pt"}],"mark":{"type":"rule","color":"black","strokeWidth":3,"xOffset":-34,"x2Offset":19},"encoding":{"x2":{"field":"pt"},"y":{"datum":0.305}}},
        {"transform":[{"filter":"datum.d=='side'"}],"mark":{"type":"rule","color":"black","strokeWidth":3,"xOffset":-34},"encoding":{"y":{"datum":0.305},"y2":{"datum":0.46}}},
        {"transform":[{"filter":"datum.d=='top'"}],"mark":{"type":"rule","color":"black","strokeWidth":3,"xOffset":19},"encoding":{"y":{"datum":0.305},"y2":{"datum":0.46}}},
        {"transform":[{"filter":"datum.d=='side'"}],"mark":{"type":"text","baseline":"middle","fontSize":46,"dx":29},"encoding":{"y":{"datum":0.08},"text":{"field":"l"}}}
      ]
    },
    {
      "width": 602, "height": 200,
      "transform": [{"filter": "datum.c=='1.0' && datum.comp=='vol'"}],
      "encoding": {"x": {"field":"pos","type":"nominal","axis":null,"scale":{"domain":["0 side","0 top","5 side","5 top","15 side","15 top","30 side","30 top"],"paddingInner":0.05,"paddingOuter":0.36,"align":0.77}}},
      "layer": [
        {"mark":{"type":"text","angle":-45,"align":"right","baseline":"middle","fontSize":48,"dx":12},"encoding":{"y":{"datum":1.0,"scale":{"domain":[0,1],"nice":false},"axis":null},"text":{"field":"d"}}},
        {"transform":[{"filter":"datum.d=='side'"},{"calculate":"datum.l + ' top'","as":"pt"}],"mark":{"type":"rule","color":"black","strokeWidth":3,"xOffset":-34,"x2Offset":19},"encoding":{"x2":{"field":"pt"},"y":{"datum":0.305}}},
        {"transform":[{"filter":"datum.d=='side'"}],"mark":{"type":"rule","color":"black","strokeWidth":3,"xOffset":-34},"encoding":{"y":{"datum":0.305},"y2":{"datum":0.46}}},
        {"transform":[{"filter":"datum.d=='top'"}],"mark":{"type":"rule","color":"black","strokeWidth":3,"xOffset":19},"encoding":{"y":{"datum":0.305},"y2":{"datum":0.46}}},
        {"transform":[{"filter":"datum.d=='side'"}],"mark":{"type":"text","baseline":"middle","fontSize":46,"dx":29},"encoding":{"y":{"datum":0.08},"text":{"field":"l"}}}
      ]
    },
    {
      "width": 602, "height": 200,
      "transform": [{"filter": "datum.c=='1.1' && datum.comp=='vol'"}],
      "encoding": {"x": {"field":"pos","type":"nominal","axis":null,"scale":{"domain":["0 side","0 top","5 side","5 top","15 side","15 top","30 side","30 top"],"paddingInner":0.05,"paddingOuter":0.36,"align":0.77}}},
      "layer": [
        {"mark":{"type":"text","angle":-45,"align":"right","baseline":"middle","fontSize":48,"dx":12},"encoding":{"y":{"datum":1.0,"scale":{"domain":[0,1],"nice":false},"axis":null},"text":{"field":"d"}}},
        {"transform":[{"filter":"datum.d=='side'"},{"calculate":"datum.l + ' top'","as":"pt"}],"mark":{"type":"rule","color":"black","strokeWidth":3,"xOffset":-34,"x2Offset":19},"encoding":{"x2":{"field":"pt"},"y":{"datum":0.305}}},
        {"transform":[{"filter":"datum.d=='side'"}],"mark":{"type":"rule","color":"black","strokeWidth":3,"xOffset":-34},"encoding":{"y":{"datum":0.305},"y2":{"datum":0.46}}},
        {"transform":[{"filter":"datum.d=='top'"}],"mark":{"type":"rule","color":"black","strokeWidth":3,"xOffset":19},"encoding":{"y":{"datum":0.305},"y2":{"datum":0.46}}},
        {"transform":[{"filter":"datum.d=='side'"}],"mark":{"type":"text","baseline":"middle","fontSize":46,"dx":29},"encoding":{"y":{"datum":0.08},"text":{"field":"l"}}}
      ]
    }
  ],
  "config": {
    "view": {"stroke": null},
    "font": "Liberation Sans",
    "bar": {"stroke": "black", "strokeWidth": 2},
    "text": {"baseline": "alphabetic", "font": "Liberation Sans", "color": "black"},
    "axis": {
      "domainColor": "black", "domainWidth": 4,
      "tickColor": "black", "tickWidth": 4, "tickSize": -13,
      "labelPadding": 33, "labelFontSize": 46, "labelFont": "Liberation Sans", "labelColor": "black",
      "grid": false,
      "titleFont": "Liberation Sans", "titleFontWeight": "normal", "titleColor": "black"
    }
  }
}
